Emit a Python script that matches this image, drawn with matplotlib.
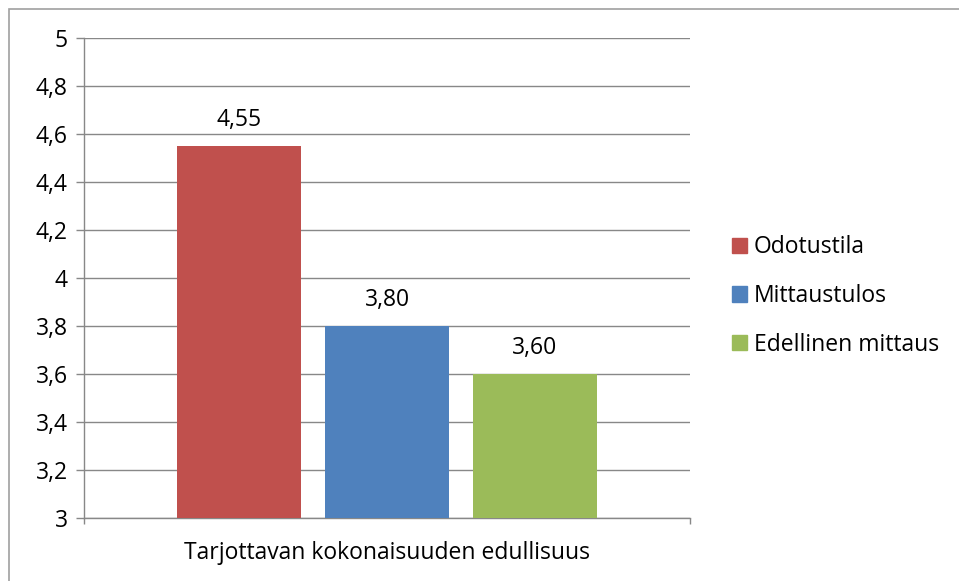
import matplotlib
matplotlib.use("Agg")
import matplotlib.pyplot as plt
from matplotlib.patches import Rectangle

plt.rcParams['font.family'] = ['Open Sans', 'DejaVu Sans']

category = "Tarjottavan kokonaisuuden edullisuus"
series = ["Odotustila", "Mittaustulos", "Edellinen mittaus"]
values = [4.55, 3.80, 3.60]
colors = ["#C0504D", "#4F81BD", "#9BBB59"]
yticks = [3, 3.2, 3.4, 3.6, 3.8, 4, 4.2, 4.4, 4.6, 4.8, 5]
ytick_labels = ["3", "3,2", "3,4", "3,6", "3,8", "4", "4,2", "4,4", "4,6", "4,8", "5"]

FS = 16.5
W, H = 959, 581
fig = plt.figure(figsize=(W / 100, H / 100), dpi=100)
fig.patches.append(Rectangle((8.5 / W, -0.1), 1.2, (H - 8.5) / H + 0.1, transform=fig.transFigure,
                             fill=False, edgecolor="#A0A0A0", linewidth=1.2))

ax = fig.add_axes([84 / W, 1 - 518 / H, (690 - 84) / W, (518 - 38) / H])
ax.set_xlim(-0.5, 0.5)
ax.set_ylim(3, 5)

offsets = [-0.2442, 0.0, 0.2442]
width = 0.2046
for off, v, c, s in zip(offsets, values, colors, series):
    ax.bar(off, v - 3, bottom=3, width=width, color=c, label=s, zorder=3)
    ax.text(off, v + 0.082, f"{v:.2f}".replace(".", ","), ha="center", va="baseline", fontsize=FS, color="#000000")

ax.set_yticks(yticks)
ax.set_yticklabels(ytick_labels, fontsize=FS)
ax.grid(axis="y", color="#888888", linewidth=1.0, zorder=0)
ax.tick_params(axis="y", length=5.8, width=1.0, color="#888888", pad=6)
ax.set_xticks([-0.5, 0.5])
ax.set_xticklabels(["", ""])
ax.tick_params(axis="x", length=4.5, width=1.0, color="#888888", direction="out")
ax.text(0.0, -0.0854, category, transform=ax.get_xaxis_transform(), ha="center", va="baseline", fontsize=FS)

for sp in ["top", "right"]:
    ax.spines[sp].set_visible(False)
for sp in ["left", "bottom"]:
    ax.spines[sp].set_color("#888888")
    ax.spines[sp].set_linewidth(1.0)

handles = [Rectangle((0, 0), 1, 1, color=c) for c in colors]
leg = fig.legend(handles, series, loc="center left", bbox_to_anchor=(732 / W, 1 - 296 / H),
                 frameon=False, fontsize=FS, handlelength=0.65, handleheight=0.65,
                 handletextpad=0.3, labelspacing=1.08, borderpad=0, borderaxespad=0)

fig.savefig("out.png", dpi=100)
